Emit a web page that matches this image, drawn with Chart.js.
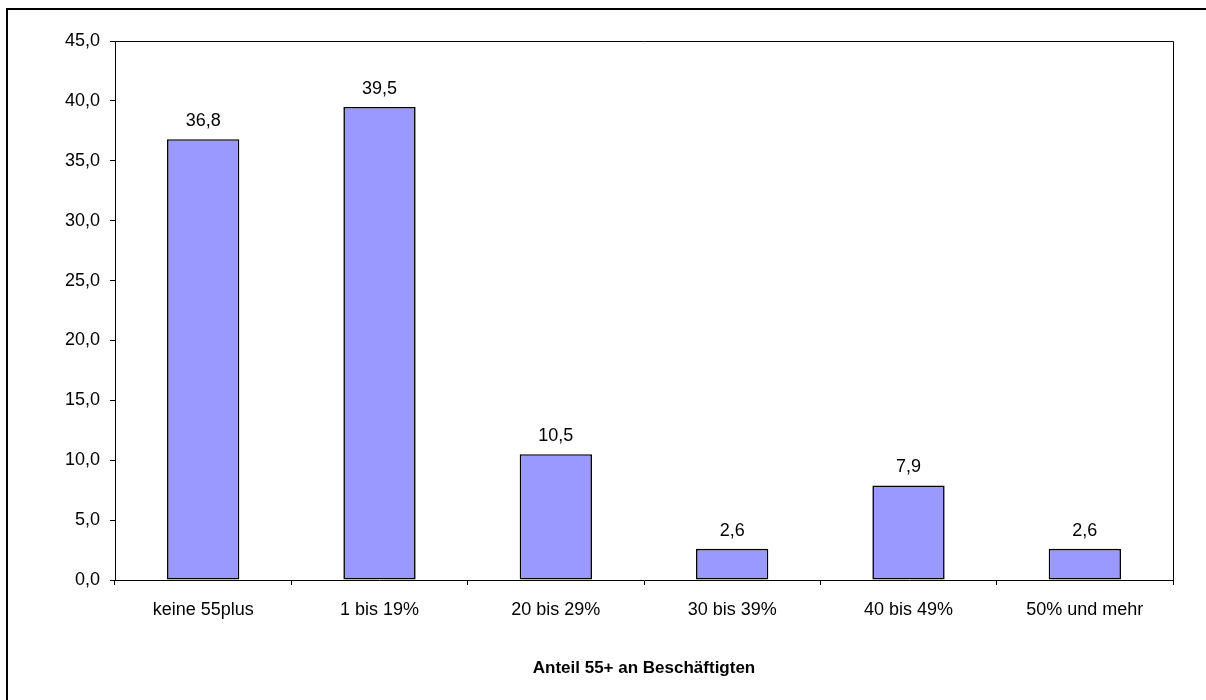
<!DOCTYPE html>
<html>
<head>
<meta charset="utf-8">
<script src="https://cdn.jsdelivr.net/npm/chart.js@4.4.1/dist/chart.umd.min.js"></script>
<style>
  html, body { margin: 0; padding: 0; background: #ffffff; }
  #wrap { width: 1206px; height: 700px; }
</style>
</head>
<body>
<div id="wrap"><canvas id="c" width="1206" height="700"></canvas></div>
<script>
const categories = ["keine 55plus", "1 bis 19%", "20 bis 29%", "30 bis 39%", "40 bis 49%", "50% und mehr"];
const values = [36.8, 39.5, 10.5, 2.6, 7.9, 2.6];
const axisTitle = "Anteil 55+ an Beschäftigten";
const yMin = 0, yMax = 45, yStep = 5;

const FONT = "'Liberation Sans', Arial, sans-serif";
const fmt = v => v.toFixed(1).replace('.', ',');

const framePlugin = {
  id: 'frame',
  afterDraw(chart) {
    const ctx = chart.ctx;
    const a = chart.chartArea;
    ctx.save();
    ctx.strokeStyle = '#000';
    ctx.lineWidth = 1;
    ctx.beginPath();
    ctx.moveTo(Math.round(a.left) + 0.5, Math.round(a.top) + 0.5);
    ctx.lineTo(Math.round(a.right) + 0.5, Math.round(a.top) + 0.5);
    ctx.lineTo(Math.round(a.right) + 0.5, Math.round(a.bottom) + 0.5);
    ctx.stroke();
    ctx.lineWidth = 2;
    ctx.beginPath();
    ctx.moveTo(7, 720);
    ctx.lineTo(7, 9);
    ctx.lineTo(1220, 9);
    ctx.stroke();
    ctx.restore();
  }
};

const labelPlugin = {
  id: 'valueLabels',
  afterDatasetsDraw(chart) {
    const ctx = chart.ctx;
    ctx.save();
    ctx.fillStyle = '#000';
    ctx.font = "18px " + FONT;
    ctx.textAlign = 'center';
    ctx.textBaseline = 'alphabetic';
    chart.getDatasetMeta(0).data.forEach((bar, i) => {
      ctx.fillText(fmt(values[i]), bar.x, bar.y - 13);
    });
    ctx.restore();
  }
};

new Chart(document.getElementById('c'), {
  type: 'bar',
  data: {
    labels: categories,
    datasets: [{
      data: values,
      backgroundColor: '#9999FF',
      borderColor: '#000000',
      borderWidth: 1.6,
      borderSkipped: false,
      categoryPercentage: 1.0,
      barPercentage: 0.41
    }]
  },
  options: {
    responsive: false,
    animation: false,
    devicePixelRatio: 1,
    layout: { padding: { top: 41, right: 33, bottom: 0, left: 0 } },
    plugins: {
      legend: { display: false },
      tooltip: { enabled: false },
      title: { display: false }
    },
    scales: {
      x: {
        afterFit(scale) { scale.height = 120; },
        border: { display: true, color: '#000', width: 1 },
        grid: {
          display: true, offset: true, drawOnChartArea: false,
          drawTicks: true, tickLength: 5, tickColor: '#000'
        },
        ticks: {
          color: '#000', font: { family: FONT, size: 18 }, padding: 14,
          maxRotation: 0, autoSkip: false
        },
        title: {
          display: true, text: axisTitle, color: '#000',
          font: { family: FONT, size: 17, weight: 'bold' },
          padding: { top: 0, bottom: 21 }
        }
      },
      y: {
        min: yMin, max: yMax,
        afterFit(scale) { scale.width = 115; },
        border: { display: true, color: '#000', width: 1 },
        grid: {
          display: true, drawOnChartArea: false,
          drawTicks: true, tickLength: 5, tickColor: '#000'
        },
        ticks: {
          stepSize: yStep, color: '#000', font: { family: FONT, size: 18 },
          padding: 10, callback: v => fmt(v)
        }
      }
    }
  },
  plugins: [framePlugin, labelPlugin]
});
</script>
</body>
</html>
